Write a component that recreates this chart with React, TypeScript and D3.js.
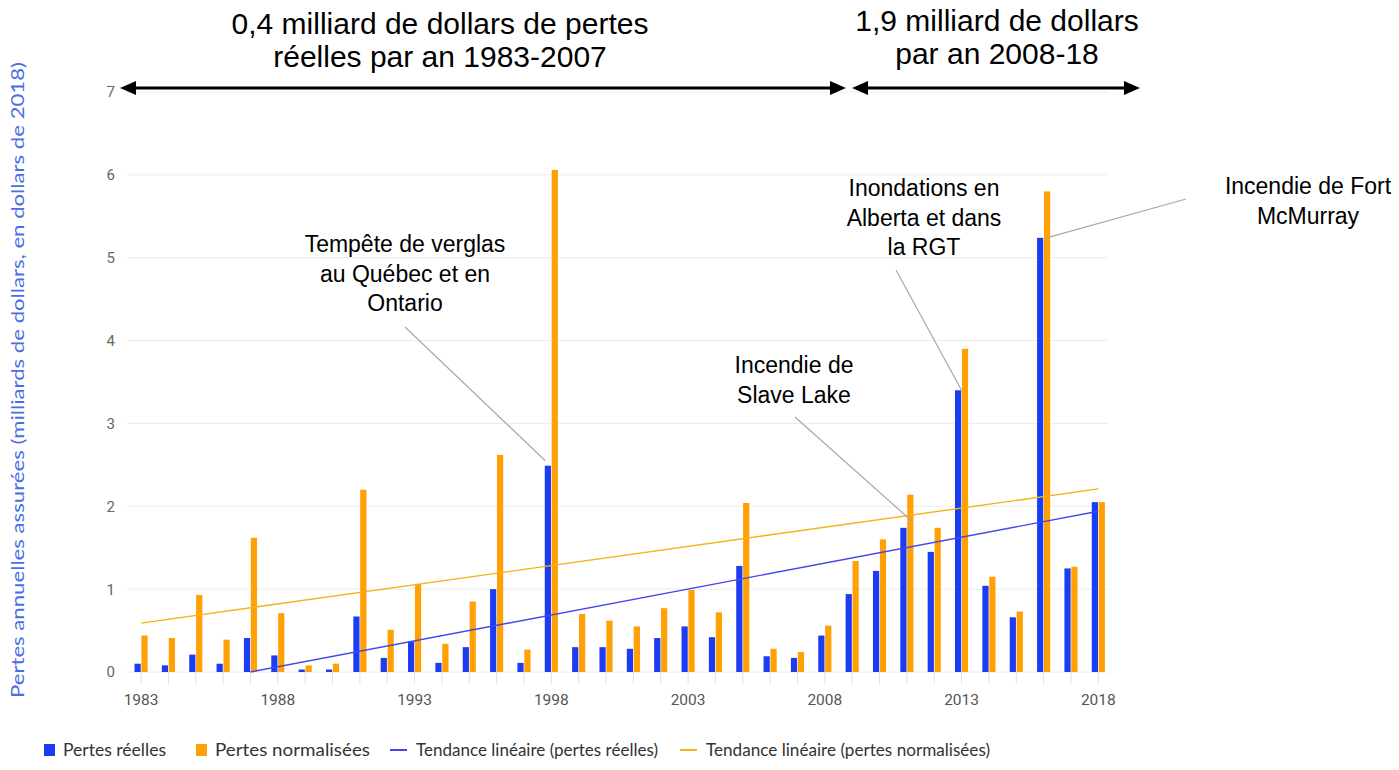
import { useEffect, useRef } from "react";
import * as d3 from "d3";

const years = [
  1983, 1984, 1985, 1986, 1987, 1988, 1989, 1990, 1991, 1992, 1993, 1994,
  1995, 1996, 1997, 1998, 1999, 2000, 2001, 2002, 2003, 2004, 2005, 2006,
  2007, 2008, 2009, 2010, 2011, 2012, 2013, 2014, 2015, 2016, 2017, 2018,
];

// pertes réelles (milliards $)
const actualLosses = [
  0.1, 0.08, 0.21, 0.1, 0.41, 0.2, 0.03, 0.03, 0.67, 0.17, 0.37, 0.11, 0.3,
  1.0, 0.11, 2.49, 0.3, 0.3, 0.28, 0.41, 0.55, 0.42, 1.28, 0.19, 0.17, 0.44,
  0.94, 1.22, 1.74, 1.45, 3.4, 1.04, 0.66, 5.24, 1.25, 2.05,
];

// pertes normalisées (milliards $ de 2018)
const normalizedLosses = [
  0.44, 0.41, 0.93, 0.39, 1.62, 0.71, 0.08, 0.1, 2.2, 0.51, 1.06, 0.34, 0.85,
  2.62, 0.27, 6.06, 0.7, 0.62, 0.55, 0.77, 0.99, 0.72, 2.04, 0.28, 0.24, 0.56,
  1.34, 1.6, 2.14, 1.74, 3.9, 1.15, 0.73, 5.8, 1.27, 2.05,
];

const yTicks = [0, 1, 2, 3, 4, 5, 6, 7];
const xTickLabels = [1983, 1988, 1993, 1998, 2003, 2008, 2013, 2018];

const trendActual = [
  { year: 1987, value: 0 },
  { year: 2018, value: 1.94 },
];
const trendNormalized = [
  { year: 1983, value: 0.59 },
  { year: 2018, value: 2.21 },
];

const annotationTexts = [
  ["Tempête de verglas", "au Québec et en", "Ontario"],
  ["Incendie de", "Slave Lake"],
  ["Inondations en", "Alberta et dans", "la RGT"],
  ["Incendie de Fort", "McMurray"],
];
const annotationTargets = [
  { year: 1998, value: 2.55 },
  { year: 2011, value: 1.81 },
  { year: 2013, value: 3.4 },
  { year: 2016, value: 5.24 },
];

const periodTitles = [
  ["0,4 milliard de dollars de pertes", "réelles par an 1983-2007"],
  ["1,9 milliard de dollars", "par an 2008-18"],
];

const legendLabels = [
  "Pertes réelles",
  "Pertes normalisées",
  "Tendance linéaire (pertes réelles)",
  "Tendance linéaire (pertes normalisées)",
];

const BLUE = "#1c3cf2";
const ORANGE = "#ffa005";
const BLUE_TREND = "#4646ee";
const ORANGE_TREND = "#f2b416";

export default function App() {
  const svgRef = useRef<SVGSVGElement>(null);
  const width = 1399;
  const height = 770;

  useEffect(() => {
    if (!svgRef.current) return;
    const svg = d3.select(svgRef.current);
    svg.selectAll("*").remove();

    const plotLeft = 127;
    const plotRight = 1108;

    const x = d3
      .scaleBand<number>()
      .domain(years)
      .range([127.4, 1112])
      .paddingInner(0.52)
      .paddingOuter(0.26);
    const cx = (yr: number) => (x(yr) || 0) + x.bandwidth() / 2;

    const sub = d3
      .scaleBand<string>()
      .domain(["actual", "normalized"])
      .range([0, x.bandwidth()])
      .paddingInner(0.1);

    const y = d3.scaleLinear().domain([0, 7]).range([672, 92]);

    // grille
    svg
      .append("g")
      .selectAll("line")
      .data(yTicks)
      .enter()
      .append("line")
      .attr("x1", plotLeft)
      .attr("x2", plotRight)
      .attr("y1", (d) => y(d))
      .attr("y2", (d) => y(d))
      .attr("stroke", "#ececec")
      .attr("stroke-width", 1);

    // axe Y
    svg
      .append("g")
      .selectAll("text")
      .data(yTicks)
      .enter()
      .append("text")
      .attr("x", 115)
      .attr("y", (d) => y(d))
      .attr("dy", "0.36em")
      .attr("text-anchor", "end")
      .style("font-family", "Roboto, sans-serif")
      .style("font-size", "15px")
      .style("fill", "#666")
      .text((d) => d);

    // axe X
    const xAxis = svg
      .append("g")
      .attr("transform", `translate(0,${y(0)})`)
      .call(
        d3
          .axisBottom(x)
          .tickValues(years)
          .tickSize(12)
          .tickPadding(10)
          .tickFormat((d) => (xTickLabels.includes(d as number) ? String(d) : "")),
      );
    xAxis.select(".domain").remove();
    xAxis.selectAll(".tick line").attr("stroke", "#e2e2e2");
    xAxis
      .selectAll("text")
      .style("font-family", "Roboto, sans-serif")
      .style("font-size", "15.5px")
      .style("fill", "#555");

    // barres
    const bars = svg.append("g");
    bars
      .selectAll(".actual")
      .data(years)
      .enter()
      .append("rect")
      .attr("x", (d) => (x(d) || 0) + (sub("actual") || 0))
      .attr("y", (_d, i) => y(actualLosses[i]))
      .attr("width", sub.bandwidth())
      .attr("height", (_d, i) => y(0) - y(actualLosses[i]))
      .attr("fill", BLUE);
    bars
      .selectAll(".normalized")
      .data(years)
      .enter()
      .append("rect")
      .attr("x", (d) => (x(d) || 0) + (sub("normalized") || 0))
      .attr("y", (_d, i) => y(normalizedLosses[i]))
      .attr("width", sub.bandwidth())
      .attr("height", (_d, i) => y(0) - y(normalizedLosses[i]))
      .attr("fill", ORANGE);

    // tendances
    const line = d3
      .line<{ year: number; value: number }>()
      .x((d) => cx(d.year))
      .y((d) => y(d.value));
    svg
      .append("path")
      .datum(trendNormalized)
      .attr("d", line)
      .attr("fill", "none")
      .attr("stroke", ORANGE_TREND)
      .attr("stroke-width", 1.4);
    svg
      .append("path")
      .datum(trendActual)
      .attr("d", line)
      .attr("fill", "none")
      .attr("stroke", BLUE_TREND)
      .attr("stroke-width", 1.4);

    // annotations
    const annoLayout = [
      { tx: 405, ty: 252, sx: 405, sy: 327, dx: -6 },
      { tx: 794, ty: 373, sx: 795, sy: 417, dx: 6 },
      { tx: 924, ty: 196, sx: 896, sy: 270, dx: 0 },
      { tx: 1308, ty: 194, sx: 1186, sy: 199, dx: 3 },
    ];
    annotationTexts.forEach((lines, k) => {
      const L = annoLayout[k];
      const t = annotationTargets[k];
      svg
        .append("line")
        .attr("x1", L.sx)
        .attr("y1", L.sy)
        .attr("x2", cx(t.year) + L.dx)
        .attr("y2", y(t.value))
        .attr("stroke", "#a8a8a8")
        .attr("stroke-width", 1.2);
      const txt = svg
        .append("text")
        .attr("text-anchor", "middle")
        .style("font-family", "'Liberation Sans', Arial, sans-serif")
        .style("font-size", "23px")
        .style("fill", "#000");
      lines.forEach((s, i) => {
        txt
          .append("tspan")
          .attr("x", L.tx)
          .attr("y", L.ty + i * 29.5)
          .text(s);
      });
    });

    // titres des périodes
    const titleLayout = [
      { x: 440, y: 34 },
      { x: 997, y: 31 },
    ];
    periodTitles.forEach((lines, k) => {
      const txt = svg
        .append("text")
        .attr("text-anchor", "middle")
        .style("font-family", "'Liberation Sans', Arial, sans-serif")
        .style("font-size", "30px")
        .style("fill", "#000");
      lines.forEach((s, i) => {
        txt
          .append("tspan")
          .attr("x", titleLayout[k].x)
          .attr("y", titleLayout[k].y + i * 33)
          .text(s);
      });
    });

    // flèches
    const arrowY = 88;
    const drawArrow = (x1: number, x2: number) => {
      const g = svg.append("g");
      g.append("line")
        .attr("x1", x1 + 10)
        .attr("x2", x2 - 10)
        .attr("y1", arrowY)
        .attr("y2", arrowY)
        .attr("stroke", "#000")
        .attr("stroke-width", 3);
      g.append("path")
        .attr("d", `M${x1},${arrowY} L${x1 + 16},${arrowY - 7} L${x1 + 16},${arrowY + 7} Z`)
        .attr("fill", "#000");
      g.append("path")
        .attr("d", `M${x2},${arrowY} L${x2 - 16},${arrowY - 7} L${x2 - 16},${arrowY + 7} Z`)
        .attr("fill", "#000");
    };
    drawArrow(120, 846);
    drawArrow(852, 1140);

    // titre axe Y
    svg
      .append("text")
      .attr("transform", "translate(24,380) rotate(-90)")
      .attr("text-anchor", "middle")
      .attr("textLength", 636)
      .attr("lengthAdjust", "spacingAndGlyphs")
      .style("font-family", "Lato, sans-serif")
      .style("font-size", "17px")
      .style("fill", "#4a6ce6")
      .text("Pertes annuelles assurées (milliards de dollars, en dollars de 2018)");

    // légende
    const legendY = 750;
    const legendItems = [
      { kind: "rect", color: BLUE, mx: 44, tx: 63, tw: 103 },
      { kind: "rect", color: ORANGE, mx: 196, tx: 215, tw: 155 },
      { kind: "line", color: BLUE_TREND, mx: 390, tx: 416, tw: 242 },
      { kind: "line", color: ORANGE_TREND, mx: 680, tx: 706, tw: 284 },
    ];
    const lg = svg.append("g");
    legendItems.forEach((it, i) => {
      if (it.kind === "rect") {
        lg.append("rect")
          .attr("x", it.mx)
          .attr("y", legendY - 6)
          .attr("width", 11)
          .attr("height", 12)
          .attr("fill", it.color);
      } else {
        lg.append("line")
          .attr("x1", it.mx)
          .attr("x2", it.mx + 17)
          .attr("y1", legendY)
          .attr("y2", legendY)
          .attr("stroke", it.color)
          .attr("stroke-width", 2);
      }
      lg.append("text")
        .attr("x", it.tx)
        .attr("y", legendY)
        .attr("dy", "0.35em")
        .attr("textLength", it.tw)
        .attr("lengthAdjust", "spacingAndGlyphs")
        .style("font-family", "Lato, sans-serif")
        .style("font-size", "17px")
        .style("fill", "#333")
        .text(legendLabels[i]);
    });
  }, []);

  return (
    <svg
      ref={svgRef}
      width={width}
      height={height}
      viewBox={`0 0 ${width} ${height}`}
      style={{ position: "absolute", left: 0, top: 0, background: "#fff" }}
    />
  );
}
